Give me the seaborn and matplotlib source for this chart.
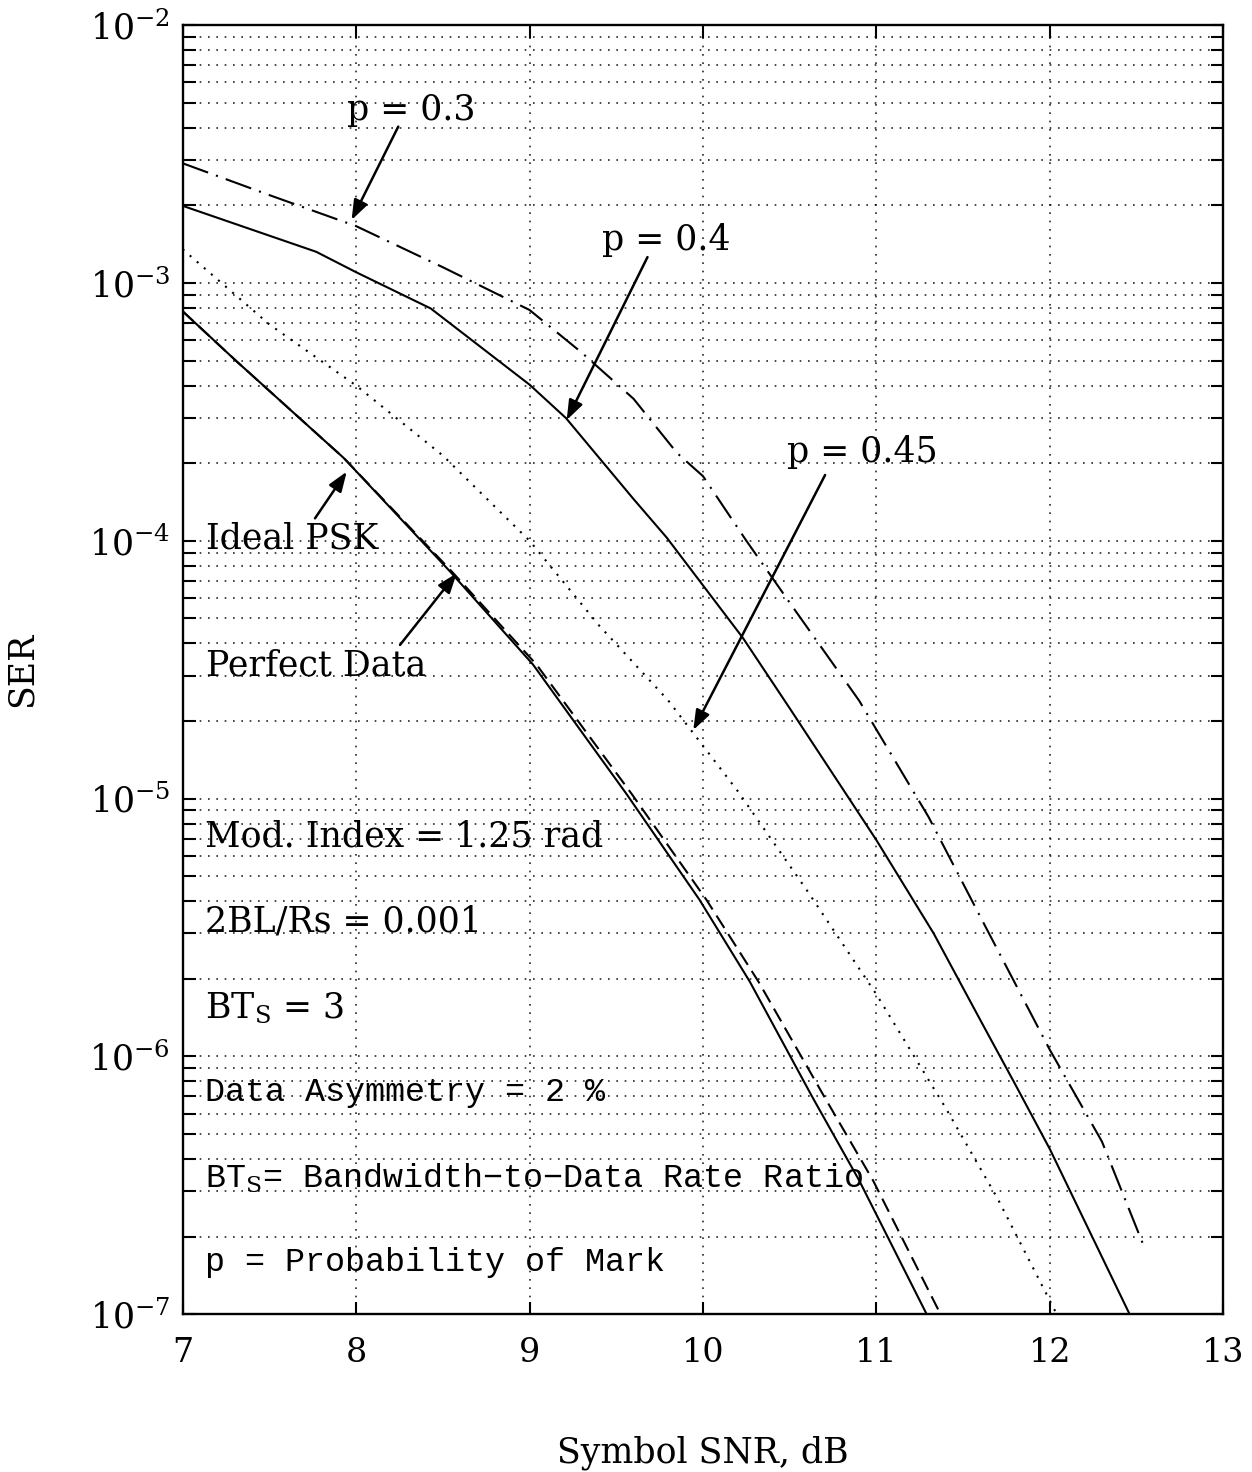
import matplotlib
matplotlib.use("Agg")
import matplotlib.pyplot as plt
from matplotlib.ticker import LogLocator, NullFormatter, LogFormatterSciNotation, FixedLocator
import seaborn as sns

# Symbol SNR (dB) and symbol error rate for each curve
snr_p30 = [7.0, 7.5, 8.0, 8.5, 9.0, 9.3, 9.6, 9.85, 10.0, 10.25, 10.5, 10.9, 11.3, 11.6, 12.0, 12.3, 12.55]
ser_p30 = [2.91e-3, 2.19e-3, 1.66e-3, 1.15e-3, 7.85e-4, 5.37e-4, 3.55e-4, 2.19e-4, 1.78e-4,
           1.0e-4, 5.75e-5, 2.4e-5, 8.5e-6, 3.47e-6, 1.06e-6, 4.68e-7, 1.78e-7]

snr_p40 = [7.0, 7.77, 8.0, 8.43, 9.0, 9.21, 9.6, 9.79, 10.23, 10.5, 11.0, 11.33, 11.6, 11.8, 12.0, 12.46]
ser_p40 = [1.99e-3, 1.32e-3, 1.10e-3, 7.96e-4, 4.03e-4, 2.99e-4, 1.45e-4, 1.03e-4, 4.2e-5,
           2.24e-5, 6.9e-6, 3.0e-6, 1.38e-6, 7.8e-7, 4.37e-7, 1.0e-7]

snr_p45 = [7.0, 7.5, 8.0, 8.5, 9.0, 9.4, 9.8, 10.2, 10.6, 11.0, 11.4, 11.7, 12.04]
ser_p45 = [1.35e-3, 6.9e-4, 4.0e-4, 2.14e-4, 1.0e-4, 4.7e-5, 2.4e-5, 1.07e-5, 4.4e-6,
           1.74e-6, 6.3e-7, 2.8e-7, 1.0e-7]

snr_ideal = [7.0, 7.31, 7.93, 8.54, 9.02, 9.56, 9.98, 10.27, 10.63, 10.9, 11.29]
ser_ideal = [7.76e-4, 4.97e-4, 2.09e-4, 7.62e-5, 3.31e-5, 1.04e-5, 4.05e-6, 1.95e-6, 6.97e-7,
             3.31e-7, 1.0e-7]

snr_perfect = [7.0, 7.31, 7.93, 8.55, 9.04, 9.59, 10.02, 10.32, 10.70, 10.98, 11.37]
ser_perfect = [7.76e-4, 4.97e-4, 2.09e-4, 7.62e-5, 3.31e-5, 1.04e-5, 4.05e-6, 1.95e-6, 6.97e-7,
               3.31e-7, 1.0e-7]

x_ticks = [7, 8, 9, 10, 11, 12, 13]

sns.set_theme(style="white")
plt.rcParams.update({
    "font.family": ["DejaVu Serif"],
    "mathtext.fontset": "dejavuserif",
    "text.color": "black",
    "axes.labelcolor": "black",
    "axes.edgecolor": "black",
    "axes.linewidth": 1.5,
    "xtick.color": "black",
    "ytick.color": "black",
})

SERIF = ["DejaVu Serif"]
MONO = ["Liberation Mono", "DejaVu Sans Mono"]

fig = plt.figure(figsize=(12.52, 14.72), dpi=100)
ax = fig.add_axes([0.1459, 0.1071, 0.8312, 0.8759])

lw = 1.5
sns.lineplot(x=snr_p30, y=ser_p30, ax=ax, color="black", lw=lw,
             linestyle=(0, (13, 4, 1, 4)), estimator=None, sort=False)
sns.lineplot(x=snr_p40, y=ser_p40, ax=ax, color="black", lw=lw,
             linestyle="-", estimator=None, sort=False)
sns.lineplot(x=snr_p45, y=ser_p45, ax=ax, color="black", lw=lw,
             linestyle=(0, (1, 3.5)), estimator=None, sort=False)
sns.lineplot(x=snr_ideal, y=ser_ideal, ax=ax, color="black", lw=lw,
             linestyle="-", estimator=None, sort=False)
sns.lineplot(x=snr_perfect, y=ser_perfect, ax=ax, color="black", lw=lw,
             linestyle=(0, (7, 3.5)), estimator=None, sort=False)

ax.set_yscale("log")
ax.set_xlim(7, 13)
ax.set_ylim(1e-7, 1e-2)

ax.xaxis.set_major_locator(FixedLocator(x_ticks))
ax.yaxis.set_major_locator(LogLocator(base=10, numticks=10))
ax.yaxis.set_major_formatter(LogFormatterSciNotation())
ax.yaxis.set_minor_locator(LogLocator(base=10, subs=range(2, 10), numticks=20))
ax.yaxis.set_minor_formatter(NullFormatter())

ax.tick_params(axis="both", which="both", direction="in", length=9, width=1.5,
               top=True, right=True, bottom=True, left=True)
ax.tick_params(axis="x", which="major", pad=16, labelsize=24)
ax.tick_params(axis="y", which="major", pad=9, labelsize=25)

grid_kw = dict(color="black", linestyle=(0, (1, 4)), linewidth=1.2, alpha=0.85)
ax.grid(True, which="major", axis="x", **grid_kw)
ax.grid(True, which="both", axis="y", **grid_kw)
ax.set_axisbelow(True)
for s in ax.spines.values():
    s.set_color("black")
    s.set_linewidth(1.7)

ax.set_xlabel("Symbol SNR, dB", family=SERIF, fontsize=25)
ax.set_ylabel("SER", family=SERIF, fontsize=25)
ax.xaxis.set_label_coords(0.5, -0.094)
ax.yaxis.set_label_coords(-0.138, 0.5)

# curve labels with pointer arrows
arrow_kw = dict(arrowstyle="-|>,head_length=0.6,head_width=0.22", color="black",
                lw=1.8, shrinkA=0, shrinkB=0, mutation_scale=20)
labels = [
    ("p = 0.3", 7.946, 10 ** -2.368, (7.974, 10 ** -2.756), (8.243, 10 ** -2.394)),
    ("p = 0.4", 9.416, 10 ** -2.873, (9.214, 10 ** -3.532), (9.680, 10 ** -2.90)),
    ("p = 0.45", 10.483, 10 ** -3.693, (9.944, 10 ** -4.734), (10.704, 10 ** -3.745)),
    ("Ideal PSK", 7.135, 10 ** -4.029, (7.946, 10 ** -3.732), (7.763, 10 ** -3.913)),
    ("Perfect Data", 7.135, 10 ** -4.521, (8.580, 10 ** -4.126), (8.253, 10 ** -4.404)),
]
for text, tx, ty, tip, start in labels:
    ax.text(tx, ty, text, family=SERIF, fontsize=25, ha="left", va="baseline")
    ax.annotate("", xy=tip, xytext=start, arrowprops=arrow_kw)

# parameter notes
notes_serif = [
    ("Mod. Index = 1.25 rad", 10 ** -5.187),
    ("2BL/Rs = 0.001", 10 ** -5.516),
    ("BT$_{\\rm S}$ = 3", 10 ** -5.852),
]
for text, ty in notes_serif:
    ax.text(7.13, ty, text, family=SERIF, fontsize=25, ha="left", va="baseline")

notes_mono = [
    ("Data Asymmetry = 2 %", 10 ** -6.173),
    ("BT$_{\\rm S}$= Bandwidth\u2212to\u2212Data Rate Ratio", 10 ** -6.510),
    ("p = Probability of Mark", 10 ** -6.832),
]
for text, ty in notes_mono:
    ax.text(7.13, ty, text, family=MONO, fontsize=24, ha="left", va="baseline")

fig.savefig("out.png", dpi=100, facecolor="white")
